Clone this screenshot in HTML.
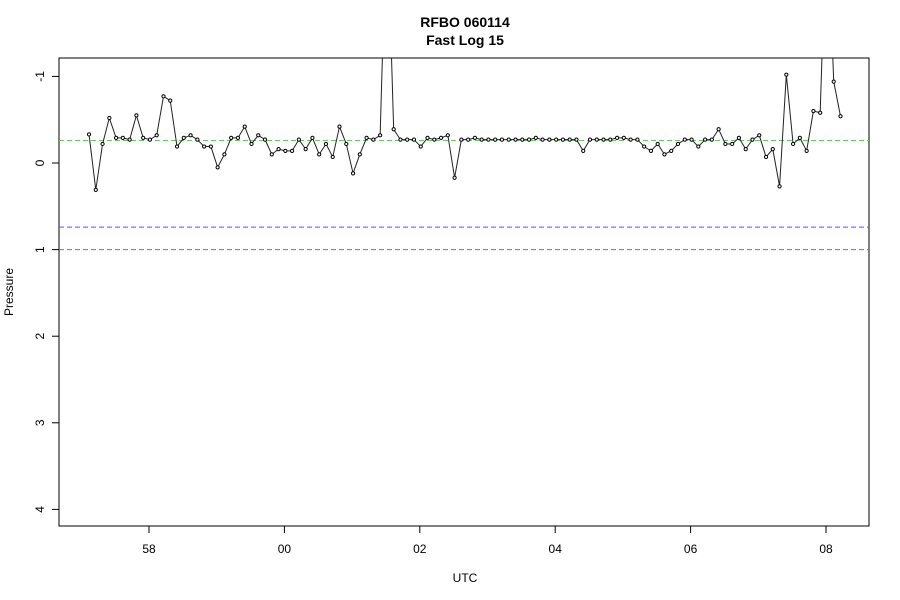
<!DOCTYPE html>
<html><head><meta charset="utf-8"><style>
body{margin:0;background:#fff}
svg{display:block;font-family:"Liberation Sans",Arial,sans-serif}
</style></head><body>
<svg id="chart" width="900" height="600">
<defs><clipPath id="pc"><rect x="59" y="58" width="810" height="468"/></clipPath></defs>
<text x="465" y="27" text-anchor="middle" font-size="14" font-weight="bold">RFBO 060114</text>
<text x="465" y="45" text-anchor="middle" font-size="14" font-weight="bold">Fast Log 15</text>
<text x="465" y="582" text-anchor="middle" font-size="12">UTC</text>
<text transform="translate(13,292) rotate(-90)" text-anchor="middle" font-size="12">Pressure</text>
<rect x="59" y="58" width="810" height="468" fill="none" stroke="#000" stroke-width="1"/>
<g id="ax"></g>
<g id="ref" clip-path="url(#pc)"></g>
<g id="ser" clip-path="url(#pc)"></g>
</svg>
<script>
const startMinute = 57.114;
const stepMinute = 0.1;
const pressure = [-0.33,0.31,-0.22,-0.52,-0.29,-0.29,-0.27,-0.55,-0.29,-0.27,-0.32,-0.77,-0.72,-0.19,-0.29,-0.32,-0.27,-0.19,-0.19,0.05,
-0.10,-0.29,-0.29,-0.42,-0.22,-0.32,-0.27,-0.10,-0.16,-0.14,-0.14,-0.27,-0.16,-0.29,-0.10,-0.22,-0.07,-0.42,-0.22,0.12,
-0.10,-0.29,-0.27,-0.32,-3.0,-0.39,-0.27,-0.27,-0.27,-0.19,-0.29,-0.27,-0.29,-0.32,0.17,-0.27,-0.27,-0.29,-0.27,-0.27,
-0.27,-0.27,-0.27,-0.27,-0.27,-0.27,-0.29,-0.27,-0.27,-0.27,-0.27,-0.27,-0.27,-0.14,-0.27,-0.27,-0.27,-0.27,-0.29,-0.29,
-0.27,-0.27,-0.19,-0.14,-0.22,-0.10,-0.14,-0.22,-0.27,-0.27,-0.19,-0.27,-0.27,-0.39,-0.22,-0.22,-0.29,-0.16,-0.27,-0.32,
-0.07,-0.16,0.27,-1.02,-0.22,-0.29,-0.14,-0.60,-0.58,-3.0,-0.94,-0.54];
const xTickValues = [58,60,62,64,66,68];
const xTickLabels = ["58","00","02","04","06","08"];
const yTickValues = [-1,0,1,2,3,4];
const yTickLabels = ["-1","0","1","2","3","4"];
const refValues = [-0.26,0.74,1.0];
const refColors = ["#33ee33","#5555ff","#777777"];

const NS="http://www.w3.org/2000/svg";
function X(t){return 149+(t-58)*67.7;}
function Y(v){return 163+v*86.6;}
function mk(tag,attrs,parent){const e=document.createElementNS(NS,tag);for(const k in attrs)e.setAttribute(k,attrs[k]);parent.appendChild(e);return e;}
const ax=document.getElementById('ax'),ref=document.getElementById('ref'),ser=document.getElementById('ser');
xTickValues.forEach((t,i)=>{
  const l=mk('line',{x1:X(t),x2:X(t),y1:526,y2:533,stroke:'#000'},ax);
  
  
  const tx=mk('text',{x:X(t),y:553,'text-anchor':'middle','font-size':12},ax);
  tx.textContent=xTickLabels[i];
  
  
});
yTickValues.forEach((v,i)=>{
  const l=mk('line',{x1:52,x2:59,y1:Y(v),y2:Y(v),stroke:'#000'},ax);
  
  
  const tx=mk('text',{transform:`translate(44,${Y(v)}) rotate(-90)`,'text-anchor':'middle','font-size':12},ax);
  tx.textContent=yTickLabels[i];
  
  
});
refValues.forEach((v,i)=>{
  const l=mk('line',{x1:59,x2:869,y1:Y(v),y2:Y(v),stroke:refColors[i],'stroke-dasharray':'5,3','stroke-width':1},ref);
  
  
});
const pts=pressure.map((v,i)=>[X(startMinute+i*stepMinute),Y(v)]);
const pl=mk('polyline',{points:pts.map(p=>p.join(',')).join(' '),fill:'none',stroke:'#222','stroke-width':1},ser);


pts.forEach(p=>{
  const c=mk('circle',{cx:p[0],cy:p[1],r:1.6,fill:'#fff',stroke:'#000','stroke-width':1},ser);
  
  
});
</script>
</body></html>
